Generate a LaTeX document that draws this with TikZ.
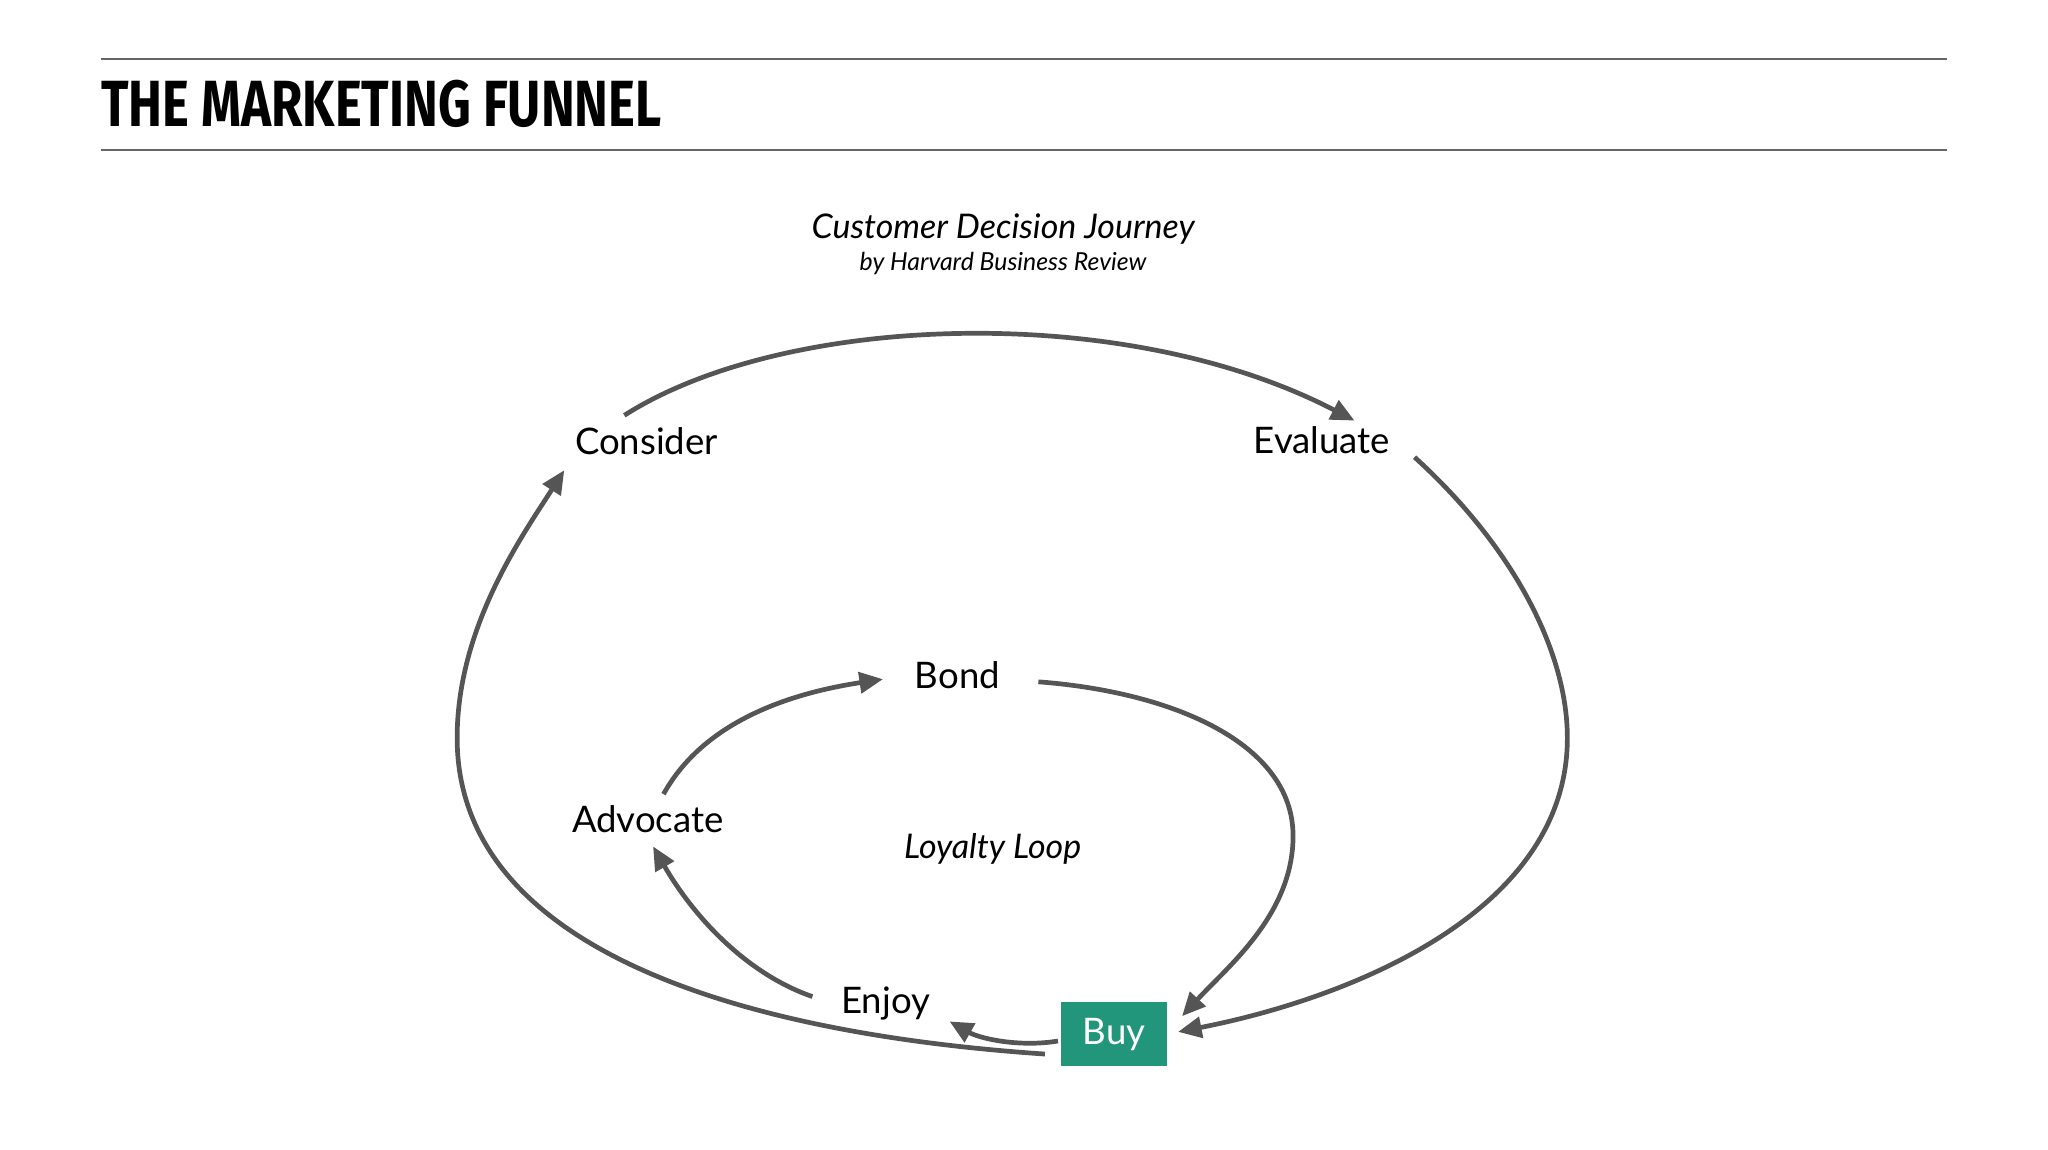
\documentclass[tikz,border=0pt]{standalone}
\usepackage{fontspec}
\setmainfont{Lato}
\newfontfamily\titlefont[FakeStretch=0.78]{Fira Sans}
\usetikzlibrary{arrows.meta}
\definecolor{arr}{HTML}{555555}
\definecolor{buyg}{HTML}{21967A}
\begin{document}
\begin{tikzpicture}[x=0.5pt,y=-0.5pt,
  lab/.style={font=\fontsize{14}{16}\selectfont,text=black},
  con/.style={draw=arr,line width=1.8pt,-{Triangle[length=9pt,width=8pt]}}]
\useasboundingbox (0,0) rectangle (1568,880);
\draw[gray!80!black,line width=0.6pt] (77,45) -- (1491,45);
\draw[gray!80!black,line width=0.6pt] (77,115) -- (1491,115);
\node[anchor=base west,inner sep=0,font=\titlefont\bfseries\fontsize{25}{28}\selectfont] (title) at (77,97) {THE MARKETING FUNNEL};
\node[font=\itshape\fontsize{13}{15}\selectfont] (cdj) at (768,175) {Customer Decision Journey};
\node[font=\itshape\fontsize{9.5}{11}\selectfont] (hbr) at (768,202) {by Harvard Business Review};
\node[lab] (consider) at (495,338) {Consider};
\node[lab] (evaluate) at (1012,337) {Evaluate};
\node[lab] (bond) at (733,517) {Bond};
\node[lab] (advocate) at (496,627) {Advocate};
\node[lab,font=\itshape\fontsize{13}{15}\selectfont] (loop) at (760,650) {Loyalty Loop};
\node[lab] (enjoy) at (678,768) {Enjoy};
\node[fill=buyg,text=white,font=\fontsize{14}{16}\selectfont,minimum width=40.5pt,minimum height=24.5pt,inner sep=0] (buy) at (853,792) {Buy};
\draw[con] (478,318) .. controls (600,240) and (860,230) .. (1037,322);
\draw[con] (1083,350) .. controls (1160,420) and (1200,500) .. (1200,565) .. controls (1200,700) and (1030,765) .. (902,790);
\draw[con] (800,807) .. controls (550,790) and (350,720) .. (350,565) .. controls (350,480) and (400,410) .. (432,360);
\draw[con] (795,522) .. controls (900,530) and (990,570) .. (990,640) .. controls (990,700) and (940,740) .. (905,778);
\draw[con] (810,797) .. controls (780,802) and (750,795) .. (727,782);
\draw[con] (622,763) .. controls (570,745) and (530,700) .. (500,648);
\draw[con] (508,608) .. controls (540,550) and (610,530) .. (676,520);
\end{tikzpicture}
\end{document}
